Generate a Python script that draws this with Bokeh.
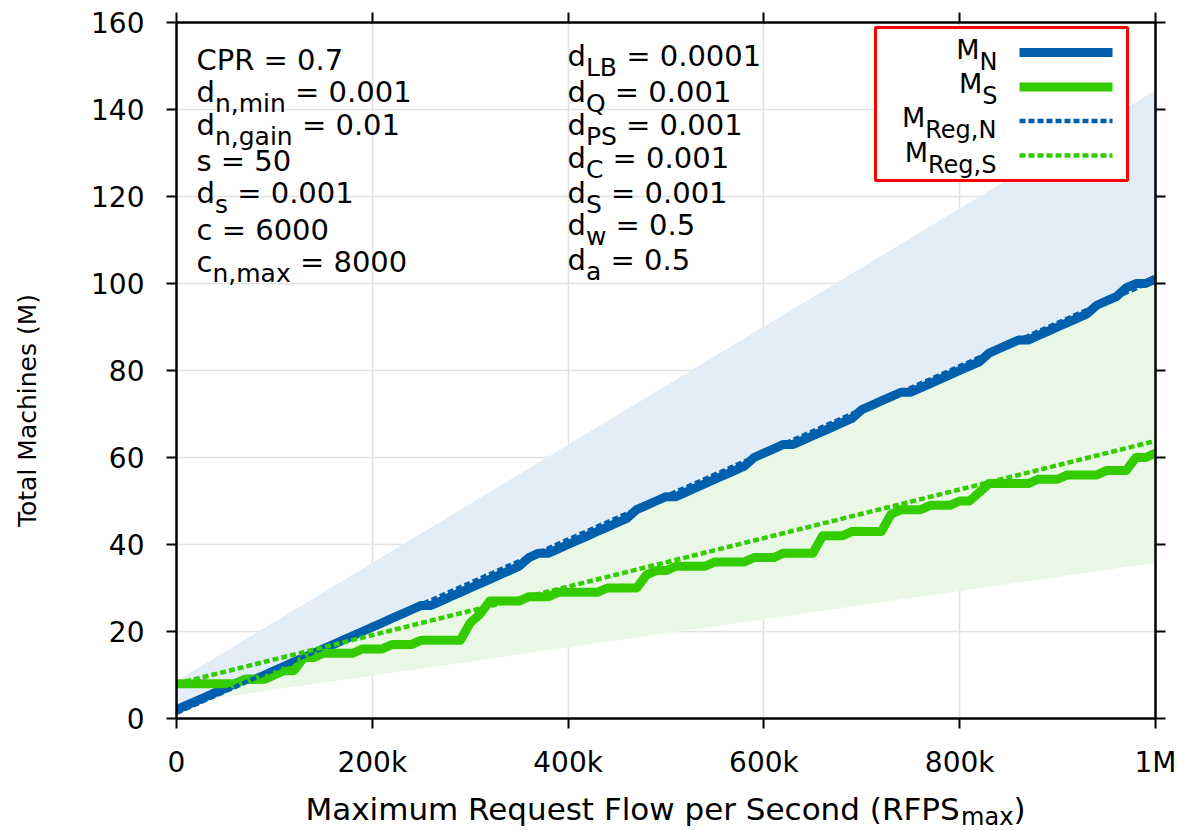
import math
import numpy as np
from bokeh.plotting import figure
from bokeh.layouts import row, column
from bokeh.models import Range1d, FixedTicker, LinearAxis, Label
from bokeh.embed import file_html
from bokeh.resources import INLINE

# ---------------- data ----------------
RFPS_K = [0, 10, 20, 30, 40, 50, 60, 70, 80, 90,
          100, 110, 120, 130, 140, 150, 160, 170, 180, 190,
          200, 210, 220, 230, 240, 250, 260, 270, 280, 290,
          300, 310, 320, 330, 340, 350, 360, 370, 380, 390,
          400, 410, 420, 430, 440, 450, 460, 470, 480, 490,
          500, 510, 520, 530, 540, 550, 560, 570, 580, 590,
          600, 610, 620, 630, 640, 650, 660, 670, 680, 690,
          700, 710, 720, 730, 740, 750, 760, 770, 780, 790,
          800, 810, 820, 830, 840, 850, 860, 870, 880, 890,
          900, 910, 920, 930, 940, 950, 960, 970, 980, 990,
          1000]
M_N = [2, 3, 4, 5, 6, 7, 8, 9, 9, 10,
       11, 12, 13, 14, 15, 16, 17, 18, 19, 20,
       21, 22, 23, 24, 25, 26, 26, 27, 28, 29,
       30, 31, 32, 33, 34, 35, 37, 38, 38, 39,
       40, 41, 42, 43, 44, 45, 46, 48, 49, 50,
       51, 51, 52, 53, 54, 55, 56, 57, 58, 60,
       61, 62, 63, 63, 64, 65, 66, 67, 68, 69,
       71, 72, 73, 74, 75, 75, 76, 77, 78, 79,
       80, 81, 82, 84, 85, 86, 87, 87, 88, 89,
       90, 91, 92, 93, 95, 96, 97, 99, 100, 100,
       101]
M_S = [8, 8, 8, 8, 8, 8, 8, 9, 9, 9,
       10, 11, 11, 14, 14, 15, 15, 15, 15, 16,
       16, 16, 17, 17, 17, 18, 18, 18, 18, 18,
       22, 24, 27, 27, 27, 27, 28, 28, 28, 29,
       29, 29, 29, 29, 30, 30, 30, 30, 33, 34,
       34, 35, 35, 35, 35, 36, 36, 36, 36, 37,
       37, 37, 38, 38, 38, 38, 42, 42, 42, 43,
       43, 43, 43, 47, 48, 48, 48, 49, 49, 49,
       50, 50, 52, 54, 54, 54, 54, 54, 55, 55,
       55, 56, 56, 56, 56, 57, 57, 57, 60, 60,
       61]
REG_X_K = [0, 1000]
REG_N = [1.3, 100.9]
REG_S = [8.0, 63.8]
BAND_UPPER_N = [8.6, 144.4]
BAND_LOWER_S = [3.4, 35.8]

X_TICKS = [0, 200000, 400000, 600000, 800000, 1000000]
X_TICK_LABELS = ["0", "200k", "400k", "600k", "800k", "1M"]
Y_TICKS = [0, 20, 40, 60, 80, 100, 120, 140, 160]

PARAMS_LEFT = [("CPR = 0.7", "", ""), ("d", "n,min", " = 0.001"), ("d", "n,gain", " = 0.01"),
               ("s = 50", "", ""), ("d", "s", " = 0.001"), ("c = 6000", "", ""),
               ("c", "n,max", " = 8000")]
PARAMS_RIGHT = [("d", "LB", " = 0.0001"), ("d", "Q", " = 0.001"), ("d", "PS", " = 0.001"),
                ("d", "C", " = 0.001"), ("d", "S", " = 0.001"), ("d", "w", " = 0.5"),
                ("d", "a", " = 0.5")]
LEGEND_ITEMS = [("M", "N"), ("M", "S"), ("M", "Reg,N"), ("M", "Reg,S")]
X_TITLE = ("Maximum Request Flow per Second (RFPS", "max", ")")
Y_TITLE = "Total Machines (M)"

# ---------------- style / layout ----------------
W, H = 1178, 831
YT_W = 60            # width of the strip holding the y title
XT_H = 41            # height of the strip holding the x title
MAIN_W, MAIN_H = W - YT_W, H - XT_H
FL, FR, FT, FB = 176, 1155, 22, 718       # frame edges in page pixels
X_MIN, X_MAX, Y_MIN, Y_MAX = 0, 1000000, 0, 160
FONT = "DejaVu Sans"
BLUE = "#0060ad"
GREEN = "#33cc00"
BLUE_FILL = "#e2edf8"
GREEN_FILL = "#e9f8e5"
GRID = "#e2e2e2"
BASE_FIX = 0.37      # observed label placement correction (fraction of font size)

ADV = {' ': .318, '(': .390, ')': .390, ',': .318, '.': .318, '=': .838,
       'A': .684, 'B': .686, 'C': .698, 'D': .770, 'E': .632, 'F': .575, 'G': .775,
       'L': .557, 'M': .863, 'N': .748, 'P': .603, 'Q': .787, 'R': .695, 'S': .635,
       'T': .611, 'a': .613, 'c': .550, 'd': .635, 'e': .615, 'g': .635, 'h': .634,
       'i': .278, 'k': .579, 'l': .278, 'm': .974, 'n': .634, 'o': .612, 'p': .635,
       'q': .635, 'r': .411, 's': .521, 't': .392, 'u': .634, 'w': .818, 'x': .592}

def tw(s, size):
    return sum(ADV.get(ch, .636 if ch.isdigit() else .6) for ch in s) * size

# converters from page pixels to the main plot's data space
def sx(px):
    return X_MIN + (px - FL) / (FR - FL) * (X_MAX - X_MIN)

def sy(py):
    return Y_MIN + (FB - py) / (FB - FT) * (Y_MAX - Y_MIN)

def add_rich(fig, cx, cy, x_px, base_px, parts, size, sub_size, sub_drop, align="left"):
    widths = [tw(t, sub_size if sub else size) for t, sub in parts]
    x = x_px - sum(widths) if align == "right" else x_px
    for (t, sub), w in zip(parts, widths):
        sz = sub_size if sub else size
        s = t
        lead = 0
        while s.startswith(" "):
            lead += tw(" ", sz)
            s = s[1:]
        if s:
            yb = base_px + (sub_drop if sub else 0) - BASE_FIX * sz
            fig.add_layout(Label(x=cx(x + lead), y=cy(yb),
                                 text=s, text_font=FONT, text_font_size=f"{sz}px",
                                 text_color="black", text_baseline="alphabetic",
                                 text_align="left"))
        x += w

def text_fig(w, h, y_range):
    f = figure(width=w, height=h, output_backend="svg", toolbar_location=None,
               x_range=Range1d(0, w), y_range=y_range,
               x_axis_type=None, y_axis_type=None,
               min_border_left=0, min_border_right=0, min_border_top=0, min_border_bottom=0)
    f.outline_line_color = None
    f.grid.visible = False
    f.background_fill_color = "white"
    f.border_fill_color = "white"
    return f

# ---------------- main plot ----------------
p = figure(width=MAIN_W, height=MAIN_H, output_backend="svg", toolbar_location=None,
           x_range=Range1d(X_MIN, X_MAX), y_range=Range1d(Y_MIN, Y_MAX),
           min_border_left=FL - YT_W, min_border_right=W - FR, min_border_top=FT,
           min_border_bottom=MAIN_H - FB)
p.outline_line_color = None
p.background_fill_color = "white"
p.border_fill_color = "white"

for ax in (p.xaxis[0], p.yaxis[0]):
    ax.axis_line_width = 2.5
    ax.axis_line_color = "black"
    ax.major_tick_line_width = 2
    ax.major_tick_line_color = "black"
    ax.major_tick_in = 0
    ax.major_tick_out = 10
    ax.minor_tick_line_color = None
    ax.major_label_text_font = FONT
    ax.major_label_text_font_size = "28px"
    ax.major_label_text_color = "black"
p.xaxis[0].ticker = FixedTicker(ticks=X_TICKS)
p.xaxis[0].major_label_overrides = {t: l for t, l in zip(X_TICKS, X_TICK_LABELS)}
p.xaxis[0].major_label_standoff = 17
p.yaxis[0].ticker = FixedTicker(ticks=Y_TICKS)
p.yaxis[0].major_label_standoff = 22

for loc, ticks in (("above", X_TICKS), ("right", Y_TICKS)):
    ax = LinearAxis(ticker=FixedTicker(ticks=ticks))
    ax.axis_line_width = 2.5
    ax.axis_line_color = "black"
    ax.major_tick_line_width = 2
    ax.major_tick_line_color = "black"
    ax.major_tick_in = 0
    ax.major_tick_out = 10
    ax.minor_tick_line_color = None
    ax.major_label_overrides = {t: "" for t in ticks}
    ax.major_label_text_color = None
    ax.major_label_standoff = 0
    p.add_layout(ax, loc)

p.xgrid.ticker = FixedTicker(ticks=X_TICKS)
p.ygrid.ticker = FixedTicker(ticks=Y_TICKS)
for g in (p.xgrid[0], p.ygrid[0]):
    g.grid_line_color = GRID
    g.grid_line_width = 1.5

x = np.array(RFPS_K) * 1000.0
xr = np.array(REG_X_K) * 1000.0

p.varea(x=xr, y1=REG_N, y2=BAND_UPPER_N, fill_color=BLUE_FILL)
p.varea(x=xr, y1=BAND_LOWER_S, y2=REG_N, fill_color=GREEN_FILL)

p.line(x, M_N, line_color=BLUE, line_width=9, line_join="round")
p.line(x, M_S, line_color=GREEN, line_width=9, line_join="round")
p.line(xr, REG_N, line_color=BLUE, line_width=4.5, line_dash="6 3")
p.line(xr, REG_S, line_color=GREEN, line_width=4.5, line_dash="6 3")

# parameter annotations
LEFT_BASE = [70, 102, 135, 171, 203, 240, 272]
RIGHT_BASE = [66, 102, 135, 168, 203, 235, 270]
for (a, b, c), base in zip(PARAMS_LEFT, LEFT_BASE):
    add_rich(p, sx, sy, 196, base, [(a, False), (b, True), (c, False)], 29, 25, 10)
for (a, b, c), base in zip(PARAMS_RIGHT, RIGHT_BASE):
    add_rich(p, sx, sy, 567, base, [(a, False), (b, True), (c, False)], 29, 25, 10)

# legend box
p.quad(left=[sx(875)], right=[sx(1127)], top=[sy(27)], bottom=[sy(180)],
       fill_color="white", line_color="#ff0000", line_width=3)
LEG_ROWS = [52, 86.5, 120.5, 155]
LEG_STYLE = [(BLUE, 9, "solid"), (GREEN, 9, "solid"), (BLUE, 4.5, "6 3"), (GREEN, 4.5, "6 3")]
for (m, sub), rw, (col, lw, dash) in zip(LEGEND_ITEMS, LEG_ROWS, LEG_STYLE):
    p.line([sx(1019), sx(1112)], [sy(rw), sy(rw)], line_color=col, line_width=lw,
           line_dash=dash)
    add_rich(p, sx, sy, 997, rw + 6.5, [(m, False), (sub, True)], 27, 24, 11.5, align="right")

# ---------------- axis titles in side strips ----------------
# the row aligns this strip's frame with the main frame (page y FT..FB), so a
# reversed range makes its data y equal to the page y
yt = text_fig(YT_W, MAIN_H, Range1d(FB, FT))
yt.add_layout(Label(x=27, y=410, text=Y_TITLE, angle=math.pi / 2,
                    text_font=FONT, text_font_size="25px", text_color="black",
                    text_align="center", text_baseline="middle"))

xt = text_fig(W, XT_H, Range1d(0, XT_H))
add_rich(xt, lambda px: px, lambda py: H - py, 305, 820,
         [(X_TITLE[0], False), (X_TITLE[1], True), (X_TITLE[2], False)], 31, 24, 5)

layout = column(row(yt, p, spacing=0), xt, spacing=0)
open("out.html", "w").write(file_html(layout, INLINE))
